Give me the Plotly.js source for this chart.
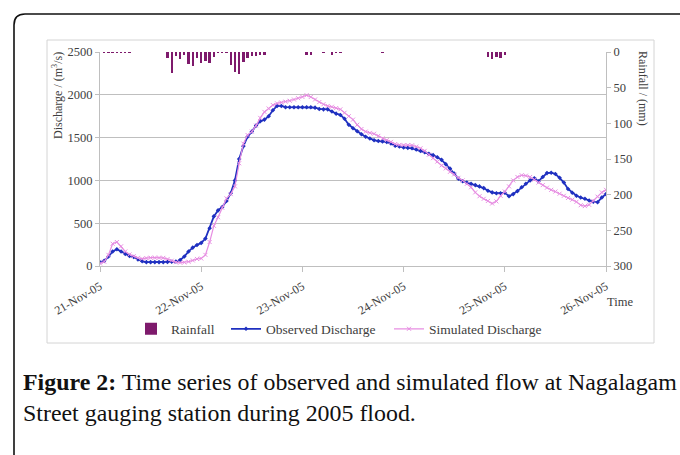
<!DOCTYPE html>
<html>
<head>
<meta charset="utf-8">
<script src="https://cdn.plot.ly/plotly-3.0.1.min.js"></script>
<style>
html,body{margin:0;padding:0;background:#fff;}
#chart{width:680px;height:455px;}
</style>
</head>
<body>
<div id="chart"></div>
<script>
// Time in hours since 21-Nov-05 00:00
const hours = [0,1,2,3,4,5,6,7,8,9,10,11,12,13,14,15,16,17,18,19,20,21,22,23,24,25,26,27,28,29,30,31,32,33,34,35,36,37,38,39,40,41,42,43,44,45,46,47,48,49,50,51,52,53,54,55,56,57,58,59,60,61,62,63,64,65,66,67,68,69,70,71,72,73,74,75,76,77,78,79,80,81,82,83,84,85,86,87,88,89,90,91,92,93,94,95,96,97,98,99,100,101,102,103,104,105,106,107,108,109,110,111,112,113,114,115,116,117,118,119,120];

const observedDischarge = [43,60,110,170,195,170,140,118,105,75,55,45,45,45,45,45,48,50,52,70,110,170,215,245,270,320,440,580,650,690,760,850,1000,1250,1400,1510,1570,1640,1690,1710,1750,1820,1870,1870,1855,1855,1855,1855,1855,1855,1855,1850,1835,1830,1830,1805,1780,1765,1720,1650,1610,1575,1540,1510,1490,1470,1460,1455,1450,1430,1405,1395,1385,1380,1375,1360,1345,1330,1310,1295,1270,1240,1190,1140,1080,1020,990,975,960,945,930,910,880,860,850,850,855,815,840,875,920,960,1000,1025,990,1040,1085,1090,1075,1030,975,900,855,820,800,785,765,750,745,800,840];

const simulatedDischarge = [30,50,130,260,280,230,170,135,115,95,85,92,97,97,97,95,80,62,45,40,42,50,65,82,88,130,280,470,570,680,790,840,930,1200,1430,1530,1570,1640,1730,1800,1840,1880,1900,1910,1920,1930,1945,1960,1975,1995,1975,1945,1915,1890,1870,1860,1845,1830,1790,1750,1710,1650,1600,1570,1555,1545,1520,1490,1470,1450,1425,1415,1412,1412,1410,1395,1375,1345,1300,1260,1220,1175,1140,1100,1070,1030,1000,960,920,860,815,785,760,730,755,820,870,930,1000,1040,1060,1055,1040,1010,975,945,915,890,870,845,820,795,775,750,710,700,715,760,810,860,890];

const rainHours = [1,2,3,4,5,6,7,16,17,18,19,20,21,22,23,24,25,26,27,28,29,30,31,32,33,34,35,36,37,38,39,49,50,53,55,56,57,67,92,93,94,95,96];
const rainMm    = [1.5,1.5,1.5,1.5,1.5,1.5,1.5,9,29,5,10,4,17,20,9,16,12,15,7,1,1,1,18,28,31,14,9,6,5,4,4,4,4,1.5,4,2,2,1,7,10,7,8,4];

const tickHours = [0,24,48,72,96,120];
const tickLabels = ['21-Nov-05','22-Nov-05','23-Nov-05','24-Nov-05','25-Nov-05','26-Nov-05'];

const serif = 'Liberation Serif, Times New Roman, serif';
const axisColor = '#bfbfbf';
const textColor = '#404040';

// geometry helpers (plot area: x 100..606 px, y 52..266 px)
const L = 100, T = 52, W = 506, H = 214;
const px = x => (x - L) / W;
const py = y => (T + H - y) / H;

const traces = [
  {
    type: 'bar', name: 'Rainfall', x: rainHours, y: rainMm, yaxis: 'y2',
    width: 0.55, marker: {color: '#7e1a6c', line: {width: 0}}, legendwidth: 50
  },
  {
    type: 'scatter', mode: 'lines+markers', name: 'Observed Discharge',
    x: hours, y: observedDischarge,
    line: {color: '#1f30c0', width: 1.8},
    marker: {symbol: 'diamond', size: 3.5, color: '#1f30c0'}, legendwidth: 118
  },
  {
    type: 'scatter', mode: 'lines+markers', name: 'Simulated Discharge',
    x: hours, y: simulatedDischarge,
    line: {color: '#e78ee2', width: 1.2},
    marker: {symbol: 'x-thin-open', size: 4, color: '#e78ee2', line: {color: '#e78ee2', width: 1}}
  }
];

const layout = {
  width: 680, height: 455,
  margin: {l: L, r: 680 - L - W, t: T, b: 455 - T - H, pad: 0},
  paper_bgcolor: '#ffffff', plot_bgcolor: '#ffffff',
  font: {family: serif, size: 12, color: textColor},
  showlegend: true,
  bargap: 0,
  xaxis: {
    range: [0, 120], tickmode: 'array', tickvals: tickHours, ticktext: tickLabels,
    tickangle: -30, ticks: 'outside', ticklen: 5, tickcolor: axisColor,
    ticklabelstandoff: 3,
    showline: true, linecolor: axisColor, linewidth: 1, showgrid: false, zeroline: false,
    tickfont: {family: serif, size: 12, color: textColor}
  },
  yaxis: {
    range: [0, 2500], dtick: 500, ticks: 'outside', ticklen: 4, tickcolor: axisColor,
    showline: true, linecolor: axisColor, showgrid: true, gridcolor: axisColor, gridwidth: 1,
    zeroline: false, tickfont: {family: serif, size: 12.5, color: textColor}
  },
  yaxis2: {
    overlaying: 'y', side: 'right', range: [300, 0], dtick: 50,
    ticks: 'outside', ticklen: 4, tickcolor: axisColor,
    showline: true, linecolor: axisColor, showgrid: false, zeroline: false,
    tickfont: {family: serif, size: 12.5, color: textColor}
  },
  legend: {
    orientation: 'h', x: px(131), xanchor: 'left', y: py(329), yanchor: 'middle',
    font: {family: serif, size: 13.5, color: textColor}, bgcolor: 'rgba(0,0,0,0)',
    itemwidth: 30, tracegroupgap: 0
  },
  shapes: [
    // chart box
    {type: 'rect', xref: 'paper', yref: 'paper', x0: px(47), x1: px(654), y0: py(343), y1: py(40),
     line: {color: '#d4d4d4', width: 1}, layer: 'below'},
    // outer frame with rounded top-left corner
    {type: 'path', xref: 'paper', yref: 'paper',
     path: `M ${px(14)} ${py(470)} L ${px(14)} ${py(25)} Q ${px(14)} ${py(14)} ${px(25)} ${py(14)} L ${px(700)} ${py(14)}`,
     line: {color: '#111111', width: 1.6}}
  ],
  annotations: [
    {xref: 'paper', yref: 'paper', x: px(57), y: py(96), text: 'Discharge / (m<sup>3</sup>/s)',
     textangle: -90, showarrow: false, xanchor: 'center', yanchor: 'middle',
     font: {family: serif, size: 12, color: textColor}},
    {xref: 'paper', yref: 'paper', x: px(643), y: py(88), text: 'Rainfall / (mm)',
     textangle: 90, showarrow: false, xanchor: 'center', yanchor: 'middle',
     font: {family: serif, size: 12, color: textColor}},
    {xref: 'paper', yref: 'paper', x: px(620), y: py(302), text: 'Time',
     showarrow: false, xanchor: 'center', yanchor: 'middle',
     font: {family: serif, size: 12.5, color: textColor}},
    {xref: 'paper', yref: 'paper', x: px(21), y: py(367), xanchor: 'left', yanchor: 'top', align: 'left',
     showarrow: false,
     text: '<b>Figure 2:</b> Time series of observed and simulated flow at Nagalagam<br>Street gauging station during 2005 flood.',
     font: {family: serif, size: 23.9, color: '#111111'}}
  ]
};

Plotly.newPlot('chart', traces, layout, {displayModeBar: false, staticPlot: true});
</script>
</body>
</html>
